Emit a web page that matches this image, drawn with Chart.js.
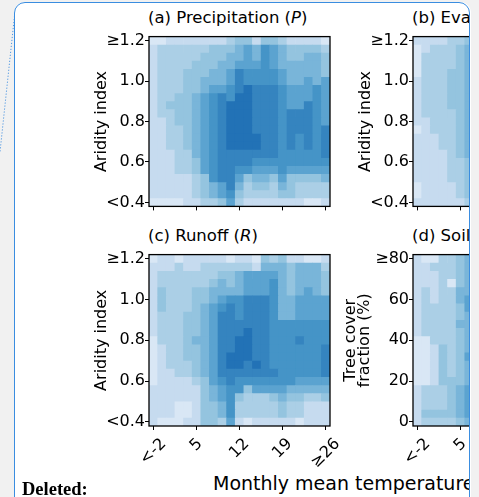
<!DOCTYPE html>
<html>
<head>
<meta charset="utf-8">
<title>Heatmaps</title>
<script src="https://cdn.jsdelivr.net/npm/chart.js@4.4.1/dist/chart.umd.min.js"></script>
<style>
  html, body { margin:0; padding:0; }
  body { width:479px; height:497px; position:relative; overflow:hidden; background:#f1f1f1; font-family:'DejaVu Sans', sans-serif; }
  #sheet { position:absolute; left:14px; top:2px; width:457px; height:520px; background:#fff; border-radius:11px; }
  #clip { position:absolute; left:0; top:0; width:470px; height:497px; overflow:hidden; }
  #edge { position:absolute; left:14px; top:2px; width:454px; height:517px; border:1.5px solid #3a8de0; border-radius:11px; pointer-events:none; }
  canvas { position:absolute; }
  .ttl { position:absolute; font-size:16.5px; line-height:16px; white-space:nowrap; color:#000; }
  #xlab { position:absolute; left:213px; top:473.7px; font-size:19px; line-height:18px; white-space:nowrap; color:#000; }
  #del { position:absolute; left:22px; top:480px; font:bold 18.5px 'Liberation Serif', serif; line-height:18px; color:#000; }
  #connector { position:absolute; left:0; top:0; }
</style>
</head>
<body>
<div id="sheet"></div>
<svg id="connector" width="20" height="160"><line x1="14.5" y1="16" x2="0" y2="152" stroke="#4f97e2" stroke-width="1" stroke-dasharray="1.2 1.8"/></svg>
<div id="clip">
  <div class="ttl" style="left:148px;top:9.5px">(a) Precipitation (<i>P</i>)</div>
  <div class="ttl" style="left:412px;top:9.5px">(b) Evapotranspiration (<i>ET</i>)</div>
  <div class="ttl" style="left:148px;top:227.5px">(c) Runoff (<i>R</i>)</div>
  <div class="ttl" style="left:412px;top:227.5px">(d) Soil moisture (<i>SM</i>)</div>
  <div id="xlab">Monthly mean temperature</div>
</div>
<div id="edge"></div>
<div id="del">Deleted:</div>

<script>
// bins along the axes
const tempBins = ['<-2','-0.6','0.8','2.2','3.6','5','6.4','7.8','9.2','10.6','12','13.4','14.8','16.2','17.6','19','20.4','21.8','23.2','24.6','≥26'];
const aridityBins = ['<0.4','0.44','0.48','0.52','0.56','0.6','0.64','0.68','0.72','0.76','0.8','0.84','0.88','0.92','0.96','1.0','1.04','1.08','1.12','1.16','≥1.2'];
const treeBins = ['0','4','8','12','16','20','24','28','32','36','40','44','48','52','56','60','64','68','72','76','≥80'];

// discrete blues, lightest to darkest
const levelColors = ['#d9e7f5','#c6dbef','#abcfe6','#94c4df','#79b5d9','#5ba3d0','#4594c7','#3584bf','#2272b6'];

// one string per row, top row (highest bin) first, one digit (level) per temperature bin
const precipGrid = [
  '001111111233133211110',
  '122222233345465433332',
  '122222333445465433443',
  '122223334455565444443',
  '122233344576666544443',
  '122233444576666544545',
  '122233455678777655565',
  '122334567688777655565',
  '123334567888777655765',
  '122334567888777677765',
  '112334567888777677765',
  '112234567888777677767',
  '112234567888877676767',
  '112234567888877676767',
  '111224567777777666667',
  '111223567777666666666',
  '111223567766555655555',
  '111112367753443533334',
  '111112345742332432222',
  '111112345632222332222',
  '000011223521111111001'
];
const runoffGrid = [
  '011011111011032311001',
  '111211222222144434442',
  '122222223345555434443',
  '122222234345556434443',
  '132223344445556434543',
  '132223345667776445555',
  '132223456767776445555',
  '122233457767776445555',
  '122233457777776666666',
  '122233457778776666666',
  '022234457788776667666',
  '012233457788776666667',
  '012233457888776666667',
  '012223457887876666667',
  '011223457777777666667',
  '011112356766666665555',
  '111111345663555544444',
  '111111345632223433223',
  '111001334622222322111',
  '111001334622222322111',
  '100011332510111110111'
];
// only the first columns of (b) and (d) are visible
const evapGrid = [
  '1111223','0122234','0222234','0222234','0222334','1222334','1222334',
  '1222334','1222334','1222234','1122234','0122234','1112234','1112234',
  '1111234','1111223','1111223','1111223','0111123','0111123','1111112'
];
const soilGrid = [
  '1002234','1122234','1112234','1112034','1212244','1212245','1222235',
  '1222234','1222244','1222234','0022234','0013234','0013235','0013234',
  '0013234','0013334','1222345','1222345','1222345','1333345','1222234'
];

const FONT = "'DejaVu Sans', sans-serif";
Chart.defaults.font.family = FONT;
Chart.defaults.color = '#000';

const AXW = 80, PW = 181, PH = 179, PADR = 14;

// black box round the plot area
const framePlugin = {
  id: 'frame',
  afterDatasetsDraw(chart) {
    const a = chart.chartArea, ctx = chart.ctx;
    ctx.save();
    ctx.strokeStyle = '#000';
    ctx.lineWidth = 1.3;
    ctx.strokeRect(a.left, a.top, a.right - a.left, a.bottom - a.top);
    ctx.restore();
  }
};

// rotated x tick labels, centred under the tick like matplotlib
const xLabelPlugin = {
  id: 'xlabels',
  afterDraw(chart, args, opts) {
    if (!opts.show) return;
    const xs = chart.scales.x, ctx = chart.ctx;
    ctx.save();
    ctx.font = '16px ' + FONT;
    ctx.fillStyle = '#000';
    ctx.textAlign = 'center';
    ctx.textBaseline = 'middle';
    xs.ticks.forEach(t => {
      const txt = xs.getLabelForValue(t.value);
      const side = (ctx.measureText(txt).width + 18) / Math.SQRT2;
      ctx.save();
      ctx.translate(xs.getPixelForValue(t.value), chart.chartArea.bottom + 9 + side / 2);
      ctx.rotate(-Math.PI / 4);
      ctx.fillText(txt, 0, 0);
      ctx.restore();
    });
    ctx.restore();
  }
};

function heatmap(p) {
  const cv = document.createElement('canvas');
  const bottomSpace = p.showX ? 48 : 8;
  cv.width = AXW + PW + PADR;
  cv.height = 2 + PH + bottomSpace;
  cv.style.left = (p.left - AXW) + 'px';
  cv.style.top = (p.top - 2) + 'px';
  document.getElementById('clip').appendChild(cv);

  // each row is a bar reaching the top edge of its bin; lower rows are drawn
  // over the taller ones so that neighbouring cells share an edge without seams
  const nRows = p.grid.length;
  const datasets = [];
  for (let r = 0; r < nRows; r++) {
    const row = p.grid[nRows - 1 - r].split('').map(Number); // lowest bin first
    datasets.push({
      data: row.map(() => r + 1),
      backgroundColor: row.map(l => levelColors[l]),
      borderWidth: 0,
      grouped: false,
      barPercentage: 1.06,
      categoryPercentage: 1
    });
  }

  new Chart(cv, {
    type: 'bar',
    data: { labels: tempBins, datasets },
    plugins: [framePlugin, xLabelPlugin],
    options: {
      responsive: false,
      animation: false,
      events: [],
      layout: { padding: { top: 2, right: PADR, left: 0, bottom: 0 } },
      plugins: { legend: { display: false }, tooltip: { enabled: false }, xlabels: { show: p.showX } },
      scales: {
        x: {
          grid: { drawOnChartArea: false, tickLength: 4, color: '#000', lineWidth: 1, offset: false },
          border: { display: false },
          ticks: { display: false, autoSkip: false },
          afterBuildTicks: s => { s.ticks = s.ticks.filter(t => t.value % 5 === 0); },
          afterFit: s => { s.height = bottomSpace; }
        },
        y: {
          min: 0, max: nRows,
          grid: { drawOnChartArea: false, tickLength: 4, color: '#000', lineWidth: 1 },
          border: { display: false },
          afterBuildTicks: s => { s.ticks = [0, 5, 10, 15, 20].map(i => ({ value: i + 0.5 })); },
          ticks: { autoSkip: false, padding: 0, font: { size: 16 }, callback: v => p.yBins[v - 0.5] },
          title: { display: true, text: p.yTitle, font: { size: 16, lineHeight: p.lh || 1.2 }, padding: { top: p.pad, bottom: 0 } },
          afterFit: s => { s.width = AXW; }
        }
      }
    }
  });
}

heatmap({ left: 149, top: 29, grid: precipGrid, yBins: aridityBins, yTitle: 'Aridity index', showX: false, pad: 23 });
heatmap({ left: 413, top: 29, grid: evapGrid, yBins: aridityBins, yTitle: 'Aridity index', showX: false, pad: 23 });
heatmap({ left: 149, top: 247, grid: runoffGrid, yBins: aridityBins, yTitle: 'Aridity index', showX: true, pad: 23 });
heatmap({ left: 413, top: 247, grid: soilGrid, yBins: treeBins, yTitle: ['Tree cover', 'fraction (%)'], showX: true, pad: 11, lh: 0.875 });
</script>
</body>
</html>
